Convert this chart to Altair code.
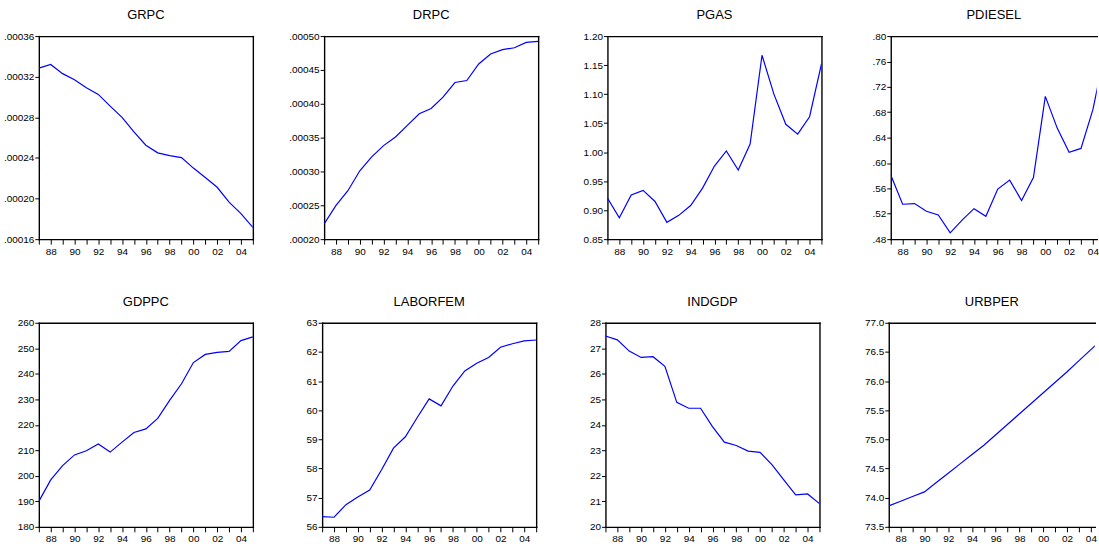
import altair as alt
import pandas as pd

YEARS = [1987, 1988, 1989, 1990, 1991, 1992, 1993, 1994, 1995, 1996,
         1997, 1998, 1999, 2000, 2001, 2002, 2003, 2004, 2005]

GRPC = [0.0003285, 0.000332, 0.000323, 0.000317, 0.000309, 0.0003026, 0.000291,
        0.000280, 0.0002656, 0.0002525, 0.000245, 0.0002423, 0.0002403, 0.000230,
        0.0002207, 0.0002111, 0.0001964, 0.0001852, 0.0001715]
DRPC = [0.0002225, 0.000250, 0.0002716, 0.000301, 0.0003216, 0.0003382, 0.000351,
        0.0003681, 0.0003853, 0.0003931, 0.0004098, 0.0004314, 0.0004343, 0.0004588,
        0.0004735, 0.0004799, 0.0004828, 0.0004907, 0.0004922]
PGAS = [0.921, 0.887, 0.926, 0.934, 0.915, 0.879, 0.891, 0.908, 0.938, 0.976,
        1.002, 0.969, 1.014, 1.167, 1.100, 1.048, 1.031, 1.061, 1.152]
PDIESEL = [0.581, 0.535, 0.536, 0.524, 0.518, 0.490, 0.510, 0.528, 0.516, 0.559,
           0.573, 0.541, 0.577, 0.705, 0.655, 0.617, 0.623, 0.684, 0.775]
GDPPC = [190.0, 198.4, 204.0, 208.2, 209.8, 212.5, 209.3, 213.2, 217.0, 218.4,
         222.5, 229.6, 236.1, 244.4, 247.6, 248.4, 248.8, 253.0, 254.5]
LABORFEM = [56.35, 56.33, 56.76, 57.02, 57.26, 57.96, 58.70, 59.09, 59.75, 60.39,
            60.15, 60.83, 61.35, 61.61, 61.81, 62.16, 62.28, 62.38, 62.41]
INDGDP = [27.48, 27.33, 26.89, 26.64, 26.67, 26.29, 24.88, 24.65, 24.65, 23.93,
          23.32, 23.19, 22.97, 22.92, 22.44, 21.84, 21.25, 21.29, 20.91]
URBPER = [73.86, 73.94, 74.02, 74.10, 74.26, 74.42, 74.58, 74.74, 74.90, 75.08,
          75.26, 75.44, 75.62, 75.80, 75.98, 76.16, 76.35, 76.54, 76.73]

GRPC_TICKS = [0.00016, 0.00020, 0.00024, 0.00028, 0.00032, 0.00036]
DRPC_TICKS = [0.00020, 0.00025, 0.00030, 0.00035, 0.00040, 0.00045, 0.00050]
PGAS_TICKS = [0.85, 0.90, 0.95, 1.00, 1.05, 1.10, 1.15, 1.20]
PDIESEL_TICKS = [0.48, 0.52, 0.56, 0.60, 0.64, 0.68, 0.72, 0.76, 0.80]
GDPPC_TICKS = [180, 190, 200, 210, 220, 230, 240, 250, 260]
LABORFEM_TICKS = [56, 57, 58, 59, 60, 61, 62, 63]
INDGDP_TICKS = [20, 21, 22, 23, 24, 25, 26, 27, 28]
URBPER_TICKS = [73.5, 74.0, 74.5, 75.0, 75.5, 76.0, 76.5, 77.0]

FONT = "Liberation Sans Narrow, Arial Narrow, Liberation Sans, Arial, sans-serif"
XLAB = "datum.value % 2 == 0 ? slice(format(datum.value, 'd'), 2) : ''"
NOLEAD5 = "slice(format(datum.value, '.5f'), 1)"
NOLEAD2 = "slice(format(datum.value, '.2f'), 1)"

W = 215
W_LAST = 207
Y_EXT = 34


def panel(name, values, ticks, label_expr, height, last=False):
    width = W_LAST if last else W
    x_max = YEARS[0] + (YEARS[-1] - YEARS[0]) * width / W
    xvals = [y for y in YEARS if y <= x_max]
    df = pd.DataFrame({"year": YEARS, "value": values})
    xs = alt.Scale(domain=[YEARS[0], x_max], nice=False, zero=False)
    ys = alt.Scale(domain=[ticks[0], ticks[-1]], nice=False, zero=False)
    common = dict(grid=False, domainColor="black", domainWidth=1.4, domainCap="square",
                  tickColor="black", tickWidth=1, labelColor="black", labelFont=FONT,
                  labelFontSize=10, labelFlush=False, labelOverlap=False)
    main = alt.Chart(df).mark_line(color="#0000FF", strokeWidth=1.2, clip=True).encode(
        x=alt.X("year:Q", scale=xs, title=None,
                axis=alt.Axis(orient="bottom", values=xvals, labelExpr=XLAB, tickSize=5,
                              labelPadding=2, minExtent=18, maxExtent=18, **common)),
        y=alt.Y("value:Q", scale=ys, title=None,
                axis=alt.Axis(orient="left", values=ticks, labelExpr=label_expr, tickSize=4,
                              labelPadding=1, minExtent=Y_EXT, maxExtent=Y_EXT, **common)),
    )
    frame_y = None if last else alt.Axis(orient="right", labels=False, ticks=False,
                                         minExtent=0, maxExtent=0, **common)
    frame = alt.Chart(df).mark_line(opacity=0, clip=True).encode(
        x=alt.X("year:Q", scale=xs, title=None,
                axis=alt.Axis(orient="top", labels=False, ticks=False,
                              minExtent=0, maxExtent=0, **common)),
        y=alt.Y("value:Q", scale=ys, title=None, axis=frame_y),
    )
    return alt.layer(main, frame).resolve_axis(x="independent", y="independent").properties(
        width=width, height=height,
        title=alt.TitleParams(text=name, font=FONT, fontSize=13, fontWeight="normal",
                              color="black", anchor="middle", frame="group",
                              offset=-1, baseline="alphabetic"),
    )


row1 = alt.hconcat(
    panel("GRPC", GRPC, GRPC_TICKS, NOLEAD5, 204),
    panel("DRPC", DRPC, DRPC_TICKS, NOLEAD5, 204),
    panel("PGAS", PGAS, PGAS_TICKS, "format(datum.value, '.2f')", 204),
    panel("PDIESEL", PDIESEL, PDIESEL_TICKS, NOLEAD2, 204, last=True),
    spacing=34.6,
)
row2 = alt.hconcat(
    panel("GDPPC", GDPPC, GDPPC_TICKS, "format(datum.value, 'd')", 205),
    panel("LABORFEM", LABORFEM, LABORFEM_TICKS, "format(datum.value, 'd')", 205),
    panel("INDGDP", INDGDP, INDGDP_TICKS, "format(datum.value, 'd')", 205),
    panel("URBPER", URBPER, URBPER_TICKS, "format(datum.value, '.1f')", 205, last=True),
    spacing=34.6,
)

chart = alt.vconcat(row1, row2, spacing=39).properties(
    padding={"left": 3, "top": 8, "right": 0, "bottom": 0},
    background="white",
).configure_view(strokeWidth=0)

chart.save("out.html", embed_options={"renderer": "svg", "actions": False})
